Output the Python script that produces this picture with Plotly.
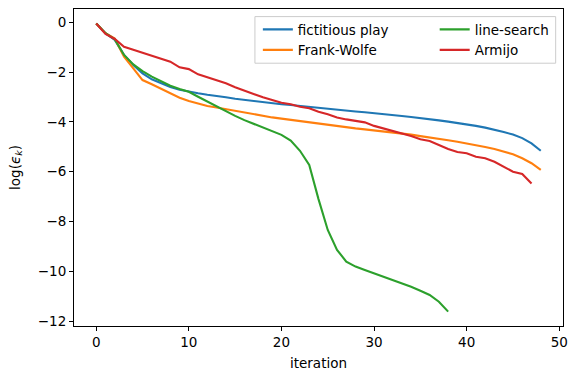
import plotly.graph_objects as go

# log-error per iteration for each method
fictitious_play = [
    -0.05, -0.44, -0.71, -1.31, -1.71, -2.05, -2.29, -2.46, -2.60, -2.71,
    -2.79, -2.85, -2.91, -2.95, -3.01, -3.07, -3.12, -3.16, -3.21, -3.25,
    -3.29, -3.32, -3.36, -3.40, -3.44, -3.47, -3.51, -3.54, -3.58, -3.61,
    -3.64, -3.68, -3.72, -3.76, -3.80, -3.84, -3.90, -3.94, -3.99, -4.04,
    -4.10, -4.16, -4.23, -4.31, -4.41, -4.51, -4.65, -4.86, -5.16,
]
frank_wolfe = [
    -0.05, -0.44, -0.65, -1.38, -1.85, -2.32, -2.49, -2.68, -2.87, -3.03,
    -3.16, -3.27, -3.36, -3.42, -3.49, -3.56, -3.63, -3.70, -3.76, -3.82,
    -3.87, -3.92, -3.98, -4.03, -4.08, -4.14, -4.18, -4.22, -4.26, -4.30,
    -4.34, -4.39, -4.43, -4.47, -4.51, -4.57, -4.62, -4.67, -4.74, -4.80,
    -4.86, -4.93, -5.01, -5.09, -5.20, -5.30, -5.46, -5.66, -5.93,
]
line_search = [
    -0.05, -0.44, -0.68, -1.31, -1.69, -1.96, -2.18, -2.38, -2.55, -2.68,
    -2.79, -2.99, -3.19, -3.37, -3.58, -3.76, -3.93, -4.08, -4.23, -4.38,
    -4.52, -4.75, -5.16, -5.73, -7.10, -8.34, -9.14, -9.61, -9.81, -9.95,
    -10.08, -10.22, -10.35, -10.48, -10.62, -10.78, -10.95, -11.22, -11.62,
]
armijo = [
    -0.05, -0.47, -0.67, -0.98, -1.10, -1.22, -1.34, -1.47, -1.58, -1.81,
    -1.88, -2.09, -2.21, -2.30, -2.45, -2.61, -2.75, -2.89, -3.01, -3.12,
    -3.23, -3.29, -3.39, -3.45, -3.59, -3.69, -3.82, -3.90, -3.96, -4.02,
    -4.16, -4.26, -4.39, -4.46, -4.57, -4.70, -4.77, -4.93, -5.09, -5.21,
    -5.26, -5.40, -5.46, -5.60, -5.80, -6.00, -6.09, -6.47,
]

# (name, values, colour, legend column)
series = [
    ("fictitious play", fictitious_play, "#1f77b4", "legend"),
    ("Frank-Wolfe", frank_wolfe, "#ff7f0e", "legend"),
    ("line-search", line_search, "#2ca02c", "legend2"),
    ("Armijo", armijo, "#d62728", "legend2"),
]

x_ticks = [0, 10, 20, 30, 40, 50]
y_ticks = [0, -2, -4, -6, -8, -10, -12]

FONT = "DejaVu Sans"
FS = 13.5

fig = go.Figure()
for name, vals, color, leg in series:
    fig.add_trace(go.Scatter(
        x=list(range(len(vals))), y=vals, mode="lines", name=name,
        line=dict(color=color, width=2.1), legend=leg,
    ))

axis_common = dict(
    showline=True, linecolor="black", linewidth=1, mirror=True,
    showgrid=False, zeroline=False, automargin=False,
    ticks="outside", ticklen=4, tickwidth=1, tickcolor="black",
    tickfont=dict(family=FONT, size=FS, color="black"),
)

legend_common = dict(
    orientation="v", yanchor="top", y=0.984,
    bgcolor="rgba(0,0,0,0)", borderwidth=0,
    font=dict(family=FONT, size=FS, color="black"),
)

fig.update_layout(
    width=568, height=371,
    margin=dict(l=74, r=5, t=9, b=45),
    paper_bgcolor="white", plot_bgcolor="white",
    font=dict(family=FONT, size=FS, color="black"),
    xaxis=dict(range=[-2.4, 50.4], tickvals=x_ticks,
               title=dict(text="iteration", standoff=10,
                          font=dict(family=FONT, size=FS)),
               **axis_common),
    yaxis=dict(range=[-12.197, 0.534], tickvals=y_ticks,
               title=dict(text="log(<i>ϵ</i><sub><i>k</i></sub>)", standoff=14,
                          font=dict(family=FONT, size=FS)),
               **axis_common),
    legend=dict(x=0.376, xanchor="left", **legend_common),
    legend2=dict(x=0.983, xanchor="right", **legend_common),
    showlegend=True,
    # shared frame behind both legend columns
    shapes=[dict(
        type="rect", xref="paper", yref="paper",
        x0=0.370, x1=0.985, y0=0.829, y1=0.976,
        line=dict(color="#cccccc", width=1),
        fillcolor="rgba(255,255,255,0.8)", layer="above",
    )],
)

fig.write_html("out.html")
